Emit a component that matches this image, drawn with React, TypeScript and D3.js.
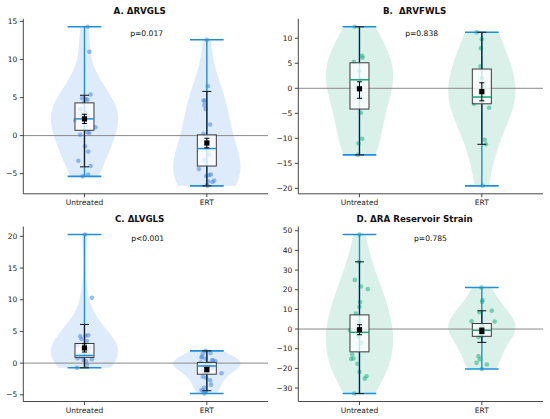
import React from "react";
import * as d3 from "d3";

// ---------- data (value, horizontal jitter in category units) ----------
const CATEGORIES = ["Untreated", "ERT"];

const A_UNTREATED: [number, number][] = [
  [14.3, 0.027], [11.0, 0.04], [5.4, 0.05], [4.9, -0.02], [4.8, 0.01], [4.7, 0.025],
  [4.3, -0.005], [3.5, -0.03], [3.0, 0.01], [2.8, -0.02], [2.5, 0.03], [2.0, -0.075],
  [1.1, 0.09], [0.45, 0.025], [0.35, 0.04], [0.1, -0.035], [-1.4, 0.005], [-2.1, 0.03],
  [-3.3, -0.05], [-4.0, 0.05], [-5.1, 0.03], [-5.35, -0.015],
];
const A_ERT: [number, number][] = [
  [12.6, 0.0], [6.5, 0.008], [4.6, -0.027], [4.6, -0.016], [4.0, -0.02], [3.5, -0.01],
  [1.45, 0.027], [0.25, -0.027], [-0.8, 0.01], [-1.7, -0.01], [-2.5, 0.02], [-3.2, -0.02],
  [-4.4, -0.065], [-5.3, -0.005], [-5.2, 0.019], [-5.1, 0.033], [-6.0, 0.01], [-6.1, 0.046],
  [-5.9, 0.06], [-6.5, 0.0], [-6.6, 0.005],
];
const B_UNTREATED: [number, number][] = [
  [12.3, -0.04], [6.5, 0.022], [6.1, 0.025], [5.3, -0.046], [3.5, 0.0], [1.7, 0.01],
  [0.5, -0.02], [-2.0, 0.015], [-4.9, 0.011], [-10.1, 0.022], [-11.0, -0.008], [-13.3, -0.014],
];
const B_ERT: [number, number][] = [
  [11.2, -0.043], [9.8, 0.0], [8.0, -0.008], [4.4, -0.011], [2.0, 0.0], [0.5, 0.01],
  [-1.0, -0.01], [-1.75, 0.005], [-2.5, 0.0], [-3.1, -0.063], [-3.9, 0.06], [-10.3, 0.024],
  [-11.2, 0.033], [-19.5, 0.006],
];
const C_UNTREATED: [number, number][] = [
  [20.3, 0.005], [10.3, 0.06], [4.4, 0.03], [4.3, 0.008], [4.25, -0.035], [3.8, -0.025],
  [3.5, 0.02], [2.85, -0.057], [2.4, 0.04], [1.8, 0.025], [1.4, -0.01], [1.2, 0.03],
  [1.0, -0.03], [0.75, -0.057], [0.6, 0.06], [0.5, -0.008], [0.3, 0.013], [-0.3, 0.02],
  [-0.74, -0.062],
];
const C_ERT: [number, number][] = [
  [1.94, -0.01], [1.6, 0.03], [1.5, -0.033], [1.0, -0.04], [0.9, -0.043], [0.7, -0.01],
  [0.5, 0.045], [0.36, 0.05], [0.3, 0.07], [0.1, -0.05], [0.0, 0.02], [-0.2, 0.0],
  [-0.3, -0.03], [-0.4, 0.03], [-0.5, -0.02], [-0.6, 0.01], [-0.74, 0.05], [-1.0, 0.01],
  [-1.3, -0.03], [-1.6, 0.12], [-2.15, -0.032], [-2.3, -0.005], [-2.7, 0.027], [-3.4, 0.035],
  [-3.9, -0.022], [-4.25, -0.043], [-4.5, -0.027], [-4.8, -0.019],
];
const D_UNTREATED: [number, number][] = [
  [48.1, 0.0], [34.2, -0.003], [25.0, -0.038], [21.6, 0.011], [20.4, 0.068], [13.7, 0.005],
  [11.3, 0.0], [7.9, -0.03], [4.0, 0.0], [1.0, 0.01], [-0.5, -0.079], [-1.7, 0.0],
  [-4.0, -0.01], [-7.0, 0.015], [-13.0, -0.06], [-15.0, -0.05], [-15.2, -0.068],
  [-17.7, -0.016], [-21.8, 0.0], [-24.0, 0.057], [-25.2, 0.043], [-32.8, -0.043],
];
const D_ERT: [number, number][] = [
  [21.1, -0.003], [14.7, 0.005], [13.9, 0.003], [9.3, 0.081], [8.6, -0.019], [3.9, -0.084],
  [3.8, 0.105], [2.0, 0.0], [1.0, 0.01], [0.0, -0.01], [-0.7, 0.0], [-1.5, 0.01],
  [-2.5, -0.01], [-3.5, 0.0], [-4.0, -0.027], [-13.9, -0.027], [-15.5, -0.016],
  [-17.2, -0.043], [-18.0, 0.041], [-20.3, 0.0],
];

// box stats: [q1, median, q3, whiskerLo, whiskerHi, mean, meanLo, meanHi]
const A_STATS = [[0.7, 2.2, 4.3, -4.1, 5.3, 2.2, 1.6, 2.8], [-4.0, -1.7, 0.1, -6.6, 5.8, -0.97, -1.6, -0.35]];
const B_STATS = [[-4.15, 1.7, 5.1, -13.3, 12.3, -0.1, -2.0, 1.3], [-3.1, -1.75, 3.85, -11.2, 11.2, -0.67, -2.5, 1.1]];
const C_STATS = [[0.9, 1.2, 3.1, -0.74, 6.1, 2.4, 1.75, 3.05], [-1.75, -0.45, 0.1, -4.35, 1.94, -1.0, -1.37, -0.68]];
const D_STATS = [[-11.6, -1.7, 7.2, -32.8, 34.2, -0.35, -2.9, 2.2], [-3.7, -0.6, 2.8, -6.8, 9.3, -0.9, -2.3, 0.5]];

const A_TICKS = [-5, 0, 5, 10, 15];
const B_TICKS = [-20, -15, -10, -5, 0, 5, 10];
const C_TICKS = [-5, 0, 5, 10, 15, 20];
const D_TICKS = [-30, -20, -10, 0, 10, 20, 30, 40, 50];

const TITLES = ["A. ΔRVGLS", "B.  ΔRVFWLS", "C. ΔLVGLS", "D. ΔRA Reservoir Strain"];
const P_LABELS = ["p=0.017", "p=0.838", "p<0.001", "p=0.785"];

// ---------- styling / layout ----------
const W = 550, H = 419;
const FONT = "DejaVu Sans, sans-serif";
const THEMES: Record<string, { fill: string; point: string; median: string }> = {
  blue: { fill: "#4a8fe7", point: "#4a86e0", median: "#1f8fd6" },
  green: { fill: "#2bb483", point: "#22b07e", median: "#1fa37a" },
};
const EXTREMA = "#1f8fd6";
const BW_SCALE = 1.2;

const COLS = [23.3, 298.3];
const ROWS = [18.8, 226.5];
const PW = 244.7, PH = 175;

const PANELS = [
  { title: TITLES[0], p: P_LABELS[0], groups: [A_UNTREATED, A_ERT], stats: A_STATS, ticks: A_TICKS, theme: "blue", col: 0, row: 0, pdx: 1, pdy: 17.2 },
  { title: TITLES[1], p: P_LABELS[1], groups: [B_UNTREATED, B_ERT], stats: B_STATS, ticks: B_TICKS, theme: "green", col: 1, row: 0, pdx: 1, pdy: 17.2 },
  { title: TITLES[2], p: P_LABELS[2], groups: [C_UNTREATED, C_ERT], stats: C_STATS, ticks: C_TICKS, theme: "blue", col: 0, row: 1, pdx: 2, pdy: 14.3 },
  { title: TITLES[3], p: P_LABELS[3], groups: [D_UNTREATED, D_ERT], stats: D_STATS, ticks: D_TICKS, theme: "green", col: 1, row: 1, pdx: 9.8, pdy: 14.6 },
];

function kde(values: number[], n = 120): [number, number][] {
  const N = values.length;
  const sd = d3.deviation(values) || 1;
  const bw = sd * Math.pow(N, -1 / 5) * BW_SCALE;
  const lo = d3.min(values)!, hi = d3.max(values)!;
  return d3.range(n).map((i) => {
    const y = lo + ((hi - lo) * i) / (n - 1);
    const d = d3.sum(values, (v) => Math.exp(-0.5 * ((y - v) / bw) ** 2));
    return [y, d] as [number, number];
  });
}

const fmt = (v: number) => (v < 0 ? "\u2212" + Math.abs(v) : String(v));

function Panel({ cfg }: { cfg: (typeof PANELS)[number] }) {
  const left = COLS[cfg.col], top = ROWS[cfg.row];
  const right = left + PW, bottom = top + PH;
  const all = cfg.groups.flat().map((d) => d[0]);
  const lo = d3.min(all)!, hi = d3.max(all)!;
  const pad = (hi - lo) * 0.05;
  const y = d3.scaleLinear().domain([lo - pad, hi + pad]).range([bottom, top]);
  const x = d3.scaleLinear().domain([-0.5, 1.5]).range([left, right]);
  const unit = x(1) - x(0);
  const violinHalf = 0.275 * unit;
  const extHalf = 0.1375 * unit;
  const boxHalf = 9.5, capHalf = 4.5, errCap = 2.5;
  const th = THEMES[cfg.theme];
  const cx0 = (left + right) / 2;

  return (
    <g>
      {cfg.groups.map((g, i) => {
        const vals = g.map((d) => d[0]);
        const dens = kde(vals);
        const dmax = d3.max(dens, (d) => d[1])!;
        const area = d3
          .area<[number, number]>()
          .y((d) => y(d[0]))
          .x0((d) => x(i) - (violinHalf * d[1]) / dmax)
          .x1((d) => x(i) + (violinHalf * d[1]) / dmax);
        return <path key={"v" + i} d={area(dens) || ""} fill={th.fill} fillOpacity={0.18} stroke="none" />;
      })}
      <line x1={left} x2={right} y1={y(0)} y2={y(0)} stroke="#8a8a8a" strokeWidth={1} />
      {cfg.groups.map((g, i) =>
        g.map((d, j) => (
          <circle key={"p" + i + "-" + j} cx={x(i + d[1])} cy={y(d[0])} r={2.3} fill={th.point} fillOpacity={0.55} />
        ))
      )}
      {cfg.groups.map((g, i) => {
        const vals = g.map((d) => d[0]);
        const mn = d3.min(vals)!, mx = d3.max(vals)!;
        return (
          <g key={"e" + i} stroke={EXTREMA} strokeWidth={1.4}>
            <line x1={x(i)} x2={x(i)} y1={y(mn)} y2={y(mx)} />
            <line x1={x(i) - extHalf} x2={x(i) + extHalf} y1={y(mn)} y2={y(mn)} strokeWidth={1.6} />
            <line x1={x(i) - extHalf} x2={x(i) + extHalf} y1={y(mx)} y2={y(mx)} strokeWidth={1.6} />
          </g>
        );
      })}
      {cfg.stats.map((s, i) => {
        const [q1, med, q3, wlo, whi, mean, mlo, mhi] = s;
        const cx = x(i);
        return (
          <g key={"b" + i}>
            <line x1={cx} x2={cx} y1={y(q3)} y2={y(whi)} stroke="#14202c" strokeWidth={1.2} />
            <line x1={cx} x2={cx} y1={y(q1)} y2={y(wlo)} stroke="#14202c" strokeWidth={1.2} />
            <line x1={cx - capHalf} x2={cx + capHalf} y1={y(whi)} y2={y(whi)} stroke="#222" strokeWidth={1.1} />
            <line x1={cx - capHalf} x2={cx + capHalf} y1={y(wlo)} y2={y(wlo)} stroke="#222" strokeWidth={1.1} />
            <rect x={cx - boxHalf} y={y(q3)} width={boxHalf * 2} height={y(q1) - y(q3)} fill="#fff" fillOpacity={0.75} stroke="#3a3a3a" strokeWidth={1} />
            <line x1={cx - boxHalf} x2={cx + boxHalf} y1={y(med)} y2={y(med)} stroke={th.median} strokeWidth={1.5} />
            <line x1={cx} x2={cx} y1={y(mlo)} y2={y(mhi)} stroke="#000" strokeWidth={1} />
            <line x1={cx - errCap} x2={cx + errCap} y1={y(mlo)} y2={y(mlo)} stroke="#000" strokeWidth={1} />
            <line x1={cx - errCap} x2={cx + errCap} y1={y(mhi)} y2={y(mhi)} stroke="#000" strokeWidth={1} />
            <rect x={cx - 2.6} y={y(mean) - 2.6} width={5.2} height={5.2} fill="#000" />
          </g>
        );
      })}
      <line x1={left} x2={left} y1={top} y2={bottom} stroke="#333" strokeWidth={0.9} />
      <line x1={left} x2={right} y1={bottom} y2={bottom} stroke="#333" strokeWidth={0.9} />
      {cfg.ticks.map((t) => (
        <g key={"t" + t}>
          <line x1={left - 3.5} x2={left} y1={y(t)} y2={y(t)} stroke="#333" strokeWidth={0.9} />
          <text x={left - 6} y={y(t)} dy="0.35em" textAnchor="end" fontSize={7.5} fill="#222" fontFamily={FONT}>
            {fmt(t)}
          </text>
        </g>
      ))}
      {CATEGORIES.map((c, i) => (
        <g key={"c" + i}>
          <line x1={x(i)} x2={x(i)} y1={bottom} y2={bottom + 3.5} stroke="#333" strokeWidth={0.9} />
          <text x={x(i)} y={bottom + 11.5} textAnchor="middle" fontSize={7.5} fill="#222" fontFamily={FONT}>
            {c}
          </text>
        </g>
      ))}
      <text x={cx0 - 6} y={top - 5} textAnchor="middle" fontSize={8.7} fontWeight="bold" fill="#111" fontFamily={FONT} style={{ whiteSpace: "pre" }}>
        {cfg.title}
      </text>
      <text x={cx0 + cfg.pdx} y={top + cfg.pdy} textAnchor="middle" fontSize={7.6} fill="#111" fontFamily={FONT}>
        {cfg.p}
      </text>
    </g>
  );
}

export default function App() {
  return (
    <svg width={W} height={H} style={{ position: "absolute", left: 0, top: 0, background: "#fff" }}>
      <rect width={W} height={H} fill="#fff" />
      {PANELS.map((p, i) => (
        <Panel key={i} cfg={p} />
      ))}
    </svg>
  );
}
